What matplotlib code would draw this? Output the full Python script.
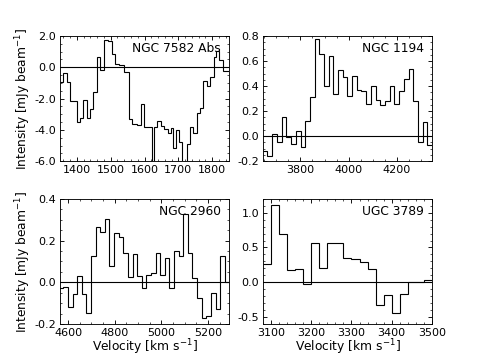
import matplotlib
matplotlib.use('Agg')
import matplotlib.pyplot as plt
from matplotlib.ticker import MultipleLocator, AutoMinorLocator, FormatStrFormatter

# ----------------------------------------------------------------------
# Spectra: channel edges [km/s] and intensity [mJy/beam]
# ----------------------------------------------------------------------
ngc7582_vel = [1350, 1360, 1370, 1380, 1399, 1409, 1419, 1429, 1439, 1449,
               1459, 1468, 1480, 1493, 1503, 1513, 1523, 1540, 1554, 1564,
               1577, 1590, 1599, 1621, 1628, 1638, 1648, 1658, 1668, 1678,
               1685, 1693, 1703, 1712, 1725, 1735, 1744, 1755, 1764, 1772,
               1784, 1794, 1804, 1812, 1821, 1833, 1856]
ngc7582_int = [-0.95, -0.38, -0.95, -2.15, -3.47, -3.26, -2.06, -3.26, -2.67, -1.58,
               0.67, -0.17, 1.73, 1.68, 0.88, 0.21, 0.17, -0.32, -3.33, -3.62,
               -3.68, -2.36, -3.79, -6.5, -3.79, -3.41, -3.75, -3.96, -4.17, -3.9,
               -5.16, -4.0, -4.8, -6.5, -4.9, -3.8, -4.2, -2.9, -2.6, -0.85,
               -1.2, -0.6, 0.65, 1.05, 0.45, -0.25]

ngc1194_vel = [3645, 3664, 3684, 3703, 3723, 3742, 3762, 3781, 3801, 3820,
               3839, 3859, 3878, 3898, 3917, 3937, 3956, 3976, 3995, 4014,
               4034, 4053, 4073, 4092, 4112, 4131, 4150, 4170, 4189, 4209,
               4228, 4248, 4267, 4287, 4306, 4325, 4345]
ngc1194_int = [-0.12, -0.16, 0.02, -0.05, 0.15, -0.01, -0.06, 0.04, -0.09, 0.12,
               0.31, 0.78, 0.66, 0.40, 0.64, 0.34, 0.53, 0.47, 0.32, 0.48,
               0.37, 0.36, 0.26, 0.40, 0.29, 0.25, 0.28, 0.40, 0.26, 0.36,
               0.46, 0.54, 0.28, -0.05, 0.11, -0.07]

ngc2960_vel = [4559, 4579, 4599, 4619, 4639, 4658, 4678, 4698, 4718, 4737,
               4757, 4777, 4797, 4817, 4836, 4856, 4876, 4896, 4916, 4935,
               4955, 4975, 4995, 5015, 5034, 5054, 5074, 5094, 5114, 5133,
               5153, 5173, 5193, 5213, 5232, 5252, 5272, 5292]
ngc2960_int = [-0.027, -0.022, -0.12, -0.056, 0.032, -0.056, -0.147, 0.128, 0.264, 0.242,
               0.304, 0.08, 0.237, 0.218, 0.141, 0.024, 0.136, 0.032, -0.027, 0.034,
               0.045, 0.138, 0.037, 0.117, -0.027, 0.152, 0.128, 0.325, 0.138, 0.021,
               -0.075, -0.171, -0.16, -0.051, -0.128, 0.125, 0.0]

ugc3789_vel = [3080, 3100, 3120, 3140, 3160, 3180, 3200, 3220, 3240, 3260,
               3280, 3300, 3320, 3340, 3360, 3380, 3400, 3420, 3440, 3460,
               3480, 3500]
ugc3789_int = [0.26, 1.11, 0.70, 0.17, 0.195, -0.02, 0.56, 0.20, 0.57, 0.565,
               0.355, 0.34, 0.285, 0.19, -0.32, -0.19, -0.44, -0.17, 0.005, 0.01,
               0.03]

names = ['NGC 7582 Abs', 'NGC 1194', 'NGC 2960', 'UGC 3789']
velocities = [ngc7582_vel, ngc1194_vel, ngc2960_vel, ugc3789_vel]
intensities = [ngc7582_int, ngc1194_int, ngc2960_int, ugc3789_int]
xlims = [(1350, 1850), (3645, 4345), (4565, 5290), (3080, 3500)]
ylims = [(-6.0, 2.0), (-0.2, 0.8), (-0.2, 0.4), (-0.6, 1.2)]
xsteps = [100, 200, 200, 100]
ysteps = [2.0, 0.2, 0.2, 0.5]

plt.rcParams['axes.unicode_minus'] = False
plt.rcParams['xtick.direction'] = 'in'
plt.rcParams['ytick.direction'] = 'in'
plt.rcParams['xtick.top'] = True
plt.rcParams['ytick.right'] = True

fig, axes = plt.subplots(2, 2, figsize=(6, 4.5), dpi=80)
plt.subplots_adjust(left=0.125, right=0.9, bottom=0.1, top=0.9, wspace=0.2, hspace=0.3)

for i, ax in enumerate(axes.flat):
    ax.stairs(intensities[i], velocities[i], baseline=None, color='k', lw=1)
    ax.axhline(0, color='k', lw=1)
    ax.set_xlim(xlims[i])
    ax.set_ylim(ylims[i])
    ax.xaxis.set_major_locator(MultipleLocator(xsteps[i]))
    ax.yaxis.set_major_locator(MultipleLocator(ysteps[i]))
    ax.yaxis.set_major_formatter(FormatStrFormatter('%.1f'))
    ax.xaxis.set_minor_locator(AutoMinorLocator())
    ax.yaxis.set_minor_locator(AutoMinorLocator())
    ax.tick_params(which='major', length=4, labelsize=10)
    ax.tick_params(which='minor', length=2)
    ax.text(0.95, 0.9, names[i], transform=ax.transAxes, ha='right', va='center', fontsize=11)

for ax in axes[:, 0]:
    ax.set_ylabel('Intensity [mJy beam$^{-1}$]', fontsize=11, labelpad=1)
for ax in axes[1, :]:
    ax.set_xlabel('Velocity [km s$^{-1}$]', fontsize=11, labelpad=0)

fig.savefig('out.png', dpi=80)
